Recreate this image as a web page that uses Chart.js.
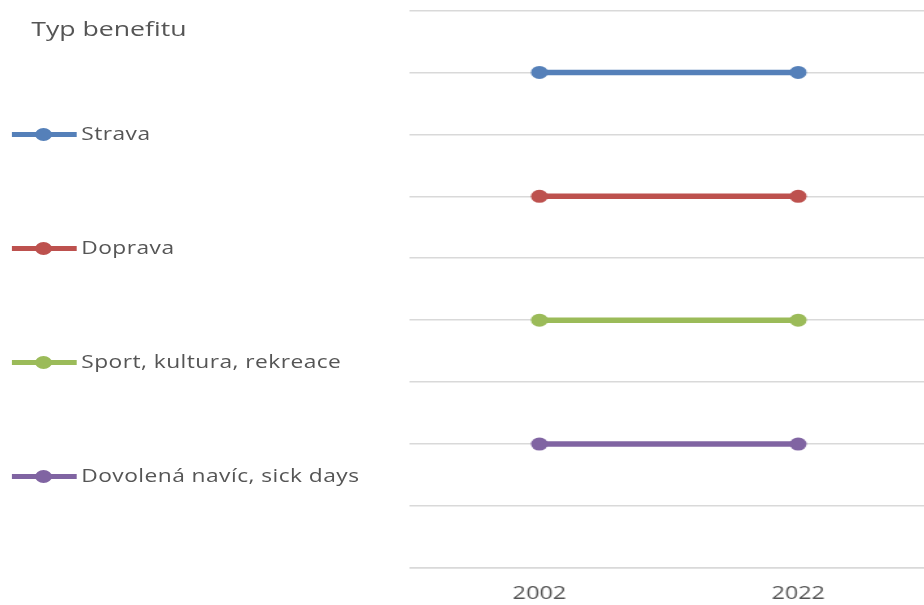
<!DOCTYPE html>
<html>
<head>
<meta charset="utf-8">
<script src="https://cdn.jsdelivr.net/npm/chart.js@4"></script>
<style>
  html, body { margin: 0; padding: 0; background: #fff; overflow: hidden; }
  body { width: 924px; height: 605px; position: relative; font-family: "Open Sans", sans-serif; color: #555; }
  /* whole figure is drawn narrow and stretched sideways */
  #stage { position: absolute; left: 0; top: 0; width: 720px; height: 621px; transform: scaleX(1.3); transform-origin: 0 0; }
  #myChart { position: absolute; left: 0; top: 0; }
  #legend { position: absolute; left: 0; top: 0; }
  #legend .title { position: absolute; left: 24px; top: 14px; font-size: 20.5px; font-weight: 500; white-space: nowrap; }
  #legend .item { position: absolute; left: 9px; height: 20px; white-space: nowrap; }
  #legend .line { position: absolute; left: 0; top: 8px; width: 50px; height: 5px; }
  #legend .dot { position: absolute; left: 18px; top: 4px; width: 13px; height: 13px; border-radius: 50%; }
  #legend .text { position: absolute; left: 53.5px; top: -3px; font-size: 17.5px; font-weight: 500; letter-spacing: 0.35px; }
</style>
</head>
<body>
<div id="stage">
  <canvas id="myChart" width="720" height="621"></canvas>
  <div id="legend"><div class="title">Typ benefitu</div></div>
</div>
<script>
'use strict';

const years = ['2002', '2022'];
const benefitNames = ['Strava', 'Doprava', 'Sport, kultura, rekreace', 'Dovolená navíc, sick days'];
const benefitColors = ['#5580b9', '#bd514e', '#9bbb59', '#8064a2'];
const strava = [8, 8];
const doprava = [6, 6];
const sport = [4, 4];
const dovolena = [2, 2];
const legendTops = [124, 238, 352, 466];

const seriesData = [strava, doprava, sport, dovolena];
let datasets = [];
for (let i = 0; i < benefitNames.length; i++) {
  datasets.push({
    label: benefitNames[i],
    data: seriesData[i],
    borderColor: benefitColors[i],
    backgroundColor: benefitColors[i],
    borderWidth: 5.5,
    pointRadius: 6.5,
    pointBorderWidth: 0
  });
}

// legend on the left
let legendEl = document.getElementById('legend');
for (let i = 0; i < benefitNames.length; i++) {
  let item = document.createElement('div');
  item.className = 'item';
  item.style.top = legendTops[i] + 'px';
  item.innerHTML = '<div class="line" style="background:' + benefitColors[i] + '"></div>' +
    '<div class="dot" style="background:' + benefitColors[i] + '"></div>' +
    '<div class="text">' + benefitNames[i] + '</div>';
  legendEl.appendChild(item);
}

let canvasElem = document.getElementById('myChart').getContext('2d');

new Chart(canvasElem, {
  type: 'line',
  data: {
    labels: years,
    datasets: datasets
  },
  options: {
    responsive: false,
    animation: false,
    layout: {
      padding: { left: 315.4, top: 10.5, right: 0, bottom: 1.5 }
    },
    plugins: {
      legend: { display: false },
      tooltip: { enabled: false }
    },
    scales: {
      x: {
        offset: true,
        grid: { display: false, drawTicks: false },
        border: { display: true, color: '#d9d9d9', width: 1.5 },
        ticks: {
          color: '#555',
          font: { family: 'Open Sans', size: 18, weight: 500 },
          padding: 15
        }
      },
      y: {
        min: 0,
        max: 9,
        ticks: { display: false, stepSize: 1 },
        grid: { color: '#d9d9d9', lineWidth: 1.5, drawTicks: false },
        border: { display: false }
      }
    }
  }
});
</script>
</body>
</html>
